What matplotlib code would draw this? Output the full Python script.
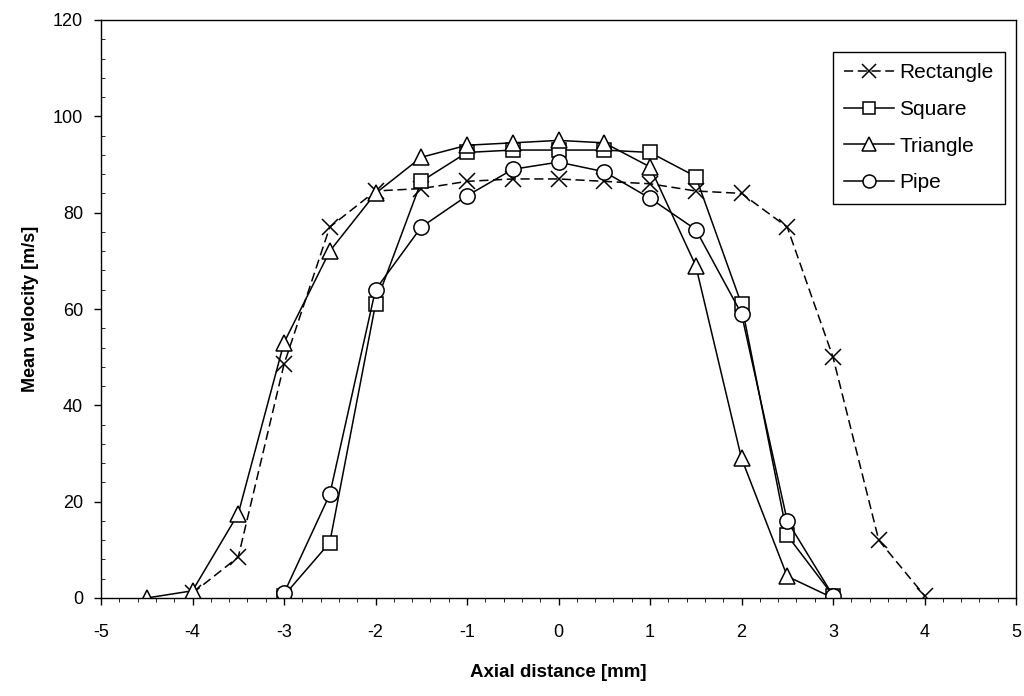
import matplotlib
matplotlib.use("Agg")
import matplotlib.pyplot as plt
from matplotlib.ticker import MultipleLocator

plt.rcParams['font.family'] = ['Liberation Sans', 'DejaVu Sans']
plt.rcParams['axes.unicode_minus'] = False

# axial positions [mm] and mean velocities [m/s]
x_rect = [-4, -3.5, -3, -2.5, -2, -1.5, -1, -0.5, 0, 0.5, 1, 1.5, 2, 2.5, 3, 3.5, 4]
v_rect = [1, 8.5, 48.5, 77, 84.5, 85, 86.5, 87, 87, 86.5, 86, 84.5, 84, 77, 50, 12, 0.5]

x_tri = [-4.5, -4, -3.5, -3, -2.5, -2, -1.5, -1, -0.5, 0, 0.5, 1, 1.5, 2, 2.5, 3]
v_tri = [0, 1.5, 17.5, 53, 72, 84, 91.5, 94, 94.5, 95, 94.5, 89.5, 69, 29, 4.5, 0]

x_sq = [-3, -2.5, -2, -1.5, -1, -0.5, 0, 0.5, 1, 1.5, 2, 2.5, 3]
v_sq = [0.5, 11.5, 61, 86.5, 92.5, 93, 93, 93, 92.5, 87.5, 61, 13, 0.5]

x_pipe = [-3, -2.5, -2, -1.5, -1, -0.5, 0, 0.5, 1, 1.5, 2, 2.5, 3]
v_pipe = [1, 21.5, 64, 77, 83.5, 89, 90.5, 88.5, 83, 76.5, 59, 16, 0.5]

fig = plt.figure(figsize=(10.24, 6.96), dpi=100)
ax = fig.add_axes([101 / 1024, 1 - 598 / 696, 915 / 1024, 578 / 696])

style = dict(color='black', lw=1.1, markerfacecolor='white',
             markeredgecolor='black', markeredgewidth=1.1, markersize=11)

ax.plot(x_rect, v_rect, ls=(0, (6, 3)), marker='x', label='Rectangle',
        **{**style, 'markersize': 12})
ax.plot(x_sq, v_sq, marker='s', label='Square', **{**style, 'markersize': 10})
ax.plot(x_tri, v_tri, marker='^', label='Triangle', **{**style, 'markersize': 12})
ax.plot(x_pipe, v_pipe, marker='o', label='Pipe', **style)

ax.set_xlim(-5, 5)
ax.set_ylim(0, 120)
ax.xaxis.set_major_locator(MultipleLocator(1))
ax.xaxis.set_minor_locator(MultipleLocator(0.2))
ax.yaxis.set_major_locator(MultipleLocator(20))
ax.yaxis.set_minor_locator(MultipleLocator(4))
ax.tick_params(axis='both', which='major', direction='out', length=5,
               width=1, labelsize=13)
ax.tick_params(axis='x', which='major', pad=14)
ax.tick_params(axis='y', which='major', pad=8)
ax.tick_params(axis='x', which='minor', direction='out', length=3)
ax.tick_params(axis='y', which='minor', direction='in', length=3)

for s in ax.spines.values():
    s.set_linewidth(1)
    s.set_color('black')

ax.set_xlabel('Axial distance [mm]', fontsize=13.5, fontweight='bold', labelpad=16)
ax.set_ylabel('Mean velocity [m/s]', fontsize=13, fontweight='bold', labelpad=10)

leg = ax.legend(loc='upper right', bbox_to_anchor=(0.988, 0.945), fontsize=15,
                frameon=True, fancybox=False, framealpha=1, edgecolor='black',
                handlelength=2.4, handletextpad=0.25, borderpad=0.55,
                labelspacing=0.85, markerscale=0.85, borderaxespad=0)
leg.get_frame().set_linewidth(1)

fig.savefig('out.png', dpi=100)
